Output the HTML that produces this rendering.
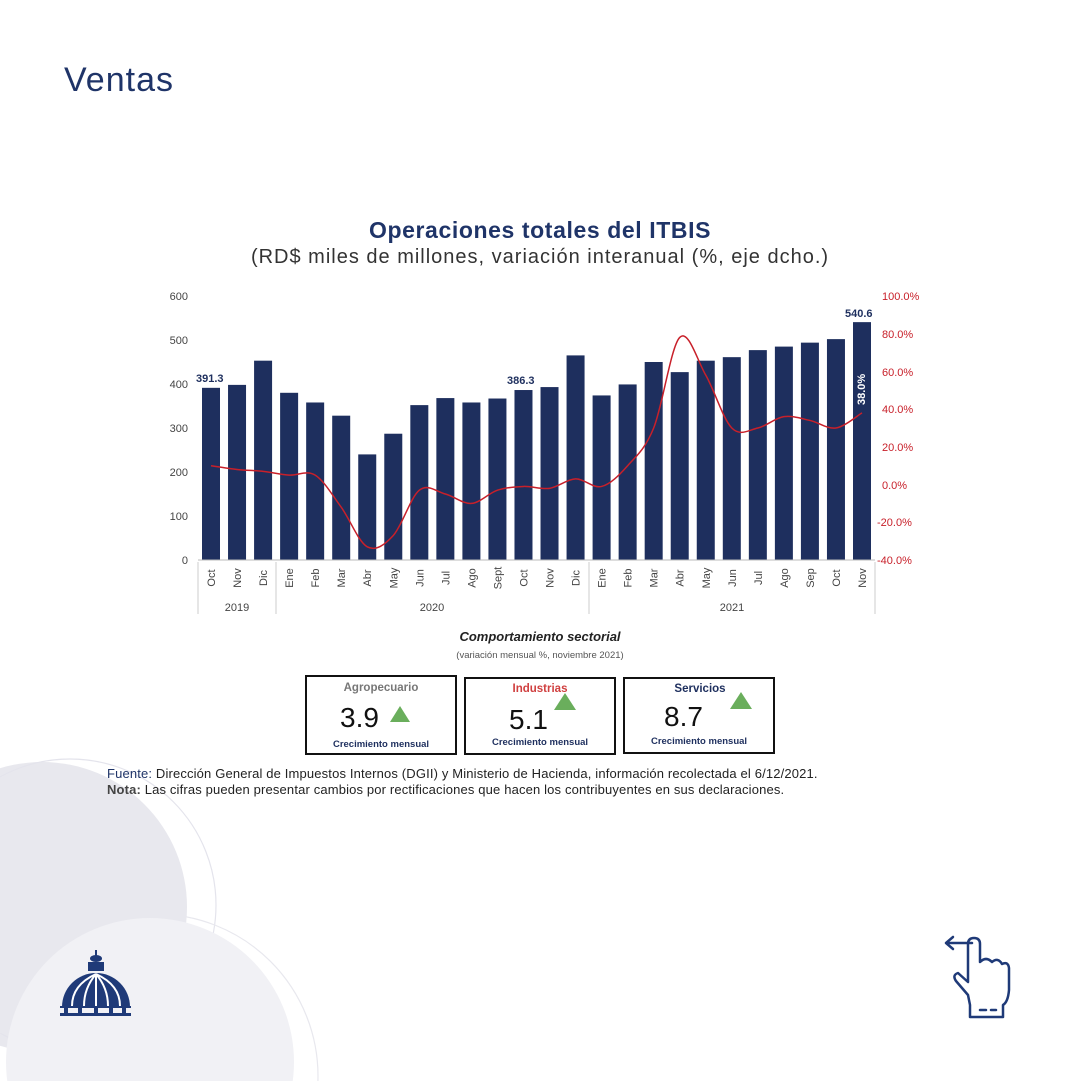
<!DOCTYPE html>
<html><head><meta charset="utf-8"><style>
html,body{margin:0;padding:0;width:1081px;height:1081px;overflow:hidden;background:#fff;font-family:"Liberation Sans",sans-serif;}
svg{display:block;}
</style></head><body>
<svg width="1081" height="1081" viewBox="0 0 1081 1081" xmlns="http://www.w3.org/2000/svg" font-family="Liberation Sans, sans-serif">
<circle cx="42" cy="907" r="145" fill="#e8e8ee"/>
<circle cx="70" cy="905" r="146" fill="none" stroke="#e4e4ec" stroke-width="1.2"/>
<circle cx="150" cy="1062" r="144" fill="#f1f1f5"/>
<circle cx="156" cy="1076" r="162" fill="none" stroke="#e8e8ee" stroke-width="1.2"/>
<text x="64" y="91" font-size="34" letter-spacing="1" fill="#1f3468">Ventas</text>
<text x="540" y="238" font-size="23" letter-spacing="0.6" fill="#1f3468" text-anchor="middle" font-weight="bold">Operaciones totales del ITBIS</text>
<text x="540" y="263" font-size="20" letter-spacing="1" fill="#333" text-anchor="middle">(RD$ miles de millones, variación interanual (%, eje dcho.)</text>
<g font-size="11" fill="#444" text-anchor="end">
<text x="188" y="300">600</text><text x="188" y="344">500</text><text x="188" y="388">400</text><text x="188" y="432">300</text><text x="188" y="476">200</text><text x="188" y="520">100</text><text x="188" y="564">0</text>
</g>
<g font-size="11" fill="#c8202a">
<text x="882" y="300">100.0%</text><text x="882" y="338">80.0%</text><text x="882" y="376">60.0%</text><text x="882" y="413">40.0%</text><text x="882" y="451">20.0%</text><text x="882" y="489">0.0%</text><text x="877" y="526">-20.0%</text><text x="877" y="564">-40.0%</text>
</g>
<g fill="#1e2f5e" id="bars"></g>
<path id="ln" fill="none" stroke="#c8202a" stroke-width="1.5"/>
<g id="lbl" font-size="11" fill="#444" text-anchor="middle"></g>
<line x1="198" y1="560" x2="875" y2="560" stroke="#bbb"/>
<g stroke="#ccc"><line x1="198" y1="562" x2="198" y2="614"/><line x1="276" y1="562" x2="276" y2="614"/><line x1="589" y1="562" x2="589" y2="614"/><line x1="875" y1="562" x2="875" y2="614"/></g>
<g font-size="11" fill="#444" text-anchor="middle"><text x="237" y="611">2019</text><text x="432" y="611">2020</text><text x="732" y="611">2021</text></g>
<g font-size="11" font-weight="bold" fill="#1e2f5e"><text x="196" y="382">391.3</text><text x="507" y="384">386.3</text><text x="845" y="317">540.6</text></g>
<text transform="translate(865,405) rotate(-90)" font-size="11" font-weight="bold" fill="#fff">38.0%</text>
<text x="540" y="641" font-size="13" font-style="italic" font-weight="bold" fill="#222" text-anchor="middle">Comportamiento sectorial</text>
<text x="540" y="658" font-size="9.5" fill="#555" text-anchor="middle">(variación mensual %, noviembre 2021)</text>
<g fill="none" stroke="#111" stroke-width="2"><rect x="306" y="676" width="150" height="78"/><rect x="465" y="678" width="150" height="76"/><rect x="624" y="678" width="150" height="75"/></g>
<g font-weight="bold" font-size="11.5" text-anchor="middle">
<text x="381" y="691" fill="#777">Agropecuario</text><text x="540" y="692" fill="#d04040">Industrias</text><text x="700" y="692" fill="#1e2f5e">Servicios</text>
<g font-size="9.5" fill="#1e2f5e"><text x="381" y="747">Crecimiento mensual</text><text x="540" y="745">Crecimiento mensual</text><text x="699" y="744">Crecimiento mensual</text></g>
</g>
<g font-size="28" fill="#111"><text x="340" y="727">3.9</text><text x="509" y="729">5.1</text><text x="664" y="726">8.7</text></g>
<g fill="#6aae5c"><polygon points="390,722 400,706 410,722"/><polygon points="554,710 565,693 576,710"/><polygon points="730,709 741,692 752,709"/></g>
<text x="107" y="778" font-size="13" letter-spacing="0.15" fill="#222"><tspan fill="#1f3468">Fuente:</tspan> Dirección General de Impuestos Internos (DGII) y Ministerio de Hacienda, información recolectada el 6/12/2021.</text>
<text x="107" y="794" font-size="13" letter-spacing="0.15" fill="#222"><tspan font-weight="bold" fill="#444">Nota:</tspan> Las cifras pueden presentar cambios por rectificaciones que hacen los contribuyentes en sus declaraciones.</text>
<g fill="#1f3a78">
<path d="M62,1007 A33,33 0 0 1 130,1007 Z"/>
<rect x="88" y="962" width="16" height="9"/><rect x="90" y="955" width="12" height="7" rx="6"/><rect x="95" y="950" width="2" height="6"/>
<rect x="60" y="1006" width="71" height="2"/><rect x="60" y="1013" width="71" height="3"/>
<rect x="64" y="1008" width="4" height="5"/><rect x="78" y="1008" width="4" height="5"/><rect x="94" y="1008" width="4" height="5"/><rect x="109" y="1008" width="4" height="5"/><rect x="122" y="1008" width="4" height="5"/>
</g>
<g stroke="#fff" stroke-width="2" fill="none"><path d="M96,974 Q72,985 72,1006"/><path d="M96,974 Q84,988 84,1006"/><path d="M96,974 L96,1006"/><path d="M96,974 Q108,988 108,1006"/><path d="M96,974 Q120,985 120,1006"/></g>
<g stroke="#1f3a78" stroke-width="2.5" fill="none" stroke-linejoin="round" stroke-linecap="round">
<path d="M946,943 L972,943 M946,943 L953,937 M946,943 L953,949"/>
<path d="M968,995 L956,981 Q952,975 958,973 L968,982 L968,944 Q968,938 974,938 Q980,938 980,944 L980,962 Q986,956 992,962 Q998,957 1002,964 Q1008,961 1009,968 L1009,990 Q1008,1002 1003,1005 L1003,1017 L970,1017 L970,1005 Z"/>
<path d="M980,1010 L986,1010 M991,1010 L996,1010"/>
</g>
<script>
var v=[391.3,398,453,380,358,328,240,287,352,368,358,367,386.3,393,465,374,399,450,427,453,461,477,485,494,502,540.6];
var p=[10,8,7,5,5,-12,-33,-27,-3,-5,-10,-3,-1,-2,3,-1,10,30,78,58,30,30,36,34,30,38];
var m=["Oct","Nov","Dic","Ene","Feb","Mar","Abr","May","Jun","Jul","Ago","Sept","Oct","Nov","Dic","Ene","Feb","Mar","Abr","May","Jun","Jul","Ago","Sep","Oct","Nov"];
var b=document.getElementById('bars'),l=document.getElementById('lbl'),P=[],ns='http://www.w3.org/2000/svg';
for(var i=0;i<26;i++){var x=211+i*26.04,h=v[i]*0.44;
var r=document.createElementNS(ns,'rect');r.setAttribute('x',x-9);r.setAttribute('y',560-h);r.setAttribute('width',18);r.setAttribute('height',h);b.appendChild(r);
P.push([x,560-(p[i]+40)*1.886]);
var t=document.createElementNS(ns,'text');t.setAttribute('transform','translate('+(x+4)+',578) rotate(-90)');t.setAttribute('text-anchor','middle');t.textContent=m[i];l.appendChild(t);}
var d='M'+P[0][0]+','+P[0][1];
for(var i=0;i<25;i++){var a=P[i>0?i-1:0],c=P[i],e=P[i+1],f=P[i<24?i+2:25];
d+=' C'+(c[0]+(e[0]-a[0])/6)+','+(c[1]+(e[1]-a[1])/6)+' '+(e[0]-(f[0]-c[0])/6)+','+(e[1]-(f[1]-c[1])/6)+' '+e[0]+','+e[1];}
document.getElementById('ln').setAttribute('d',d);
</script>
</svg>
</body></html>
